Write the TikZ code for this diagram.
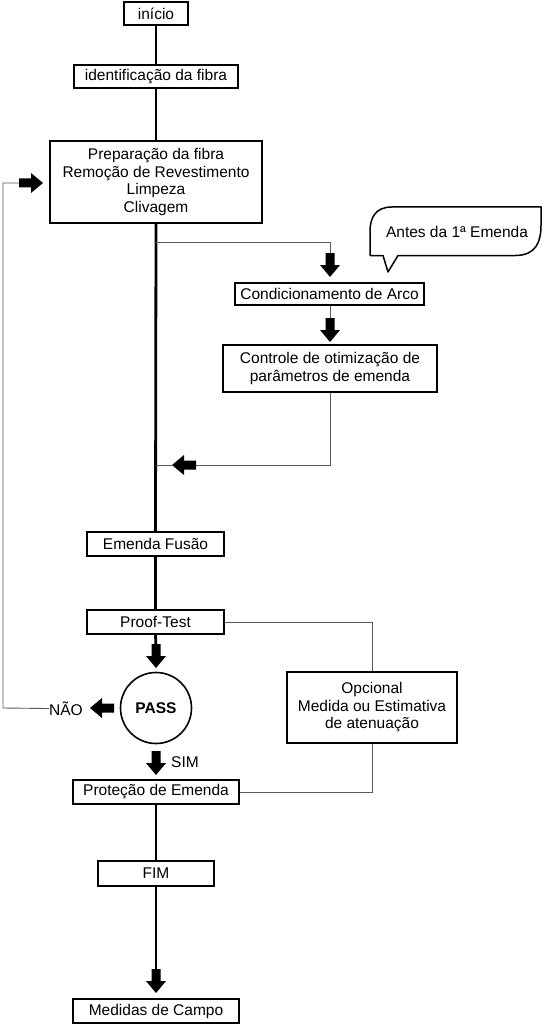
\documentclass[tikz,border=0pt]{standalone}
\usepackage{fontspec}
\setmainfont{Liberation Sans}
\begin{document}
\begin{tikzpicture}[x=1pt,y=-1pt,
  txt/.style={font=\fontsize{15.5}{17.5}\selectfont},
  box/.style={txt,draw,line width=1.6pt,inner sep=0pt,align=center},
  thick line/.style={line width=2.8pt},
  thin line/.style={line width=0.9pt,draw=black!65},
  barrowdown/.pic={\fill[black] (-4.5,-24) -- (4.5,-24) -- (4.5,-12) -- (10,-12) -- (0,0) -- (-10,-12) -- (-4.5,-12) -- cycle;},
  barrowleft/.pic={\fill[black] (24,-4.5) -- (12,-4.5) -- (12,-10) -- (0,0) -- (12,10) -- (12,4.5) -- (24,4.5) -- cycle;},
  barrowright/.pic={\fill[black] (-24,-4.5) -- (-12,-4.5) -- (-12,-10) -- (0,0) -- (-12,10) -- (-12,4.5) -- (-24,4.5) -- cycle;}
]
\useasboundingbox (0,0) rectangle (544,1024);

% nodes
\node[box,minimum width=64pt,minimum height=23pt] (inicio) at (156,13.5) {início};
\node[box,minimum width=164pt,minimum height=23pt] (ident) at (156,76.5) {identificação da fibra};
\node[box,minimum width=212pt,minimum height=82pt] (prep) at (156,182) {Preparação da fibra\\Remoção de Revestimento\\Limpeza\\Clivagem};
\node[box,minimum width=189pt,minimum height=22pt] (cond) at (329.5,294) {Condicionamento de Arco};
\node[box,minimum width=214pt,minimum height=47pt] (ctrl) at (330,368.5) {Controle de otimização de\\parâmetros de emenda};
\node[box,minimum width=137pt,minimum height=24pt] (fusao) at (155.5,544) {Emenda Fusão};
\node[box,minimum width=137pt,minimum height=24pt] (proof) at (155.5,622) {Proof-Test};
\node[box,circle,minimum size=71pt,font=\fontsize{15.5}{17.5}\selectfont\bfseries] (pass) at (156,708) {PASS};
\node[box,minimum width=166pt,minimum height=24pt] (prot) at (156,792) {Proteção de Emenda};
\node[box,minimum width=116pt,minimum height=25pt] (fim) at (156,873.5) {FIM};
\node[box,minimum width=166pt,minimum height=24pt] (medidas) at (156,1011) {Medidas de Campo};
\node[box,minimum width=170pt,minimum height=71pt] (opc) at (372,707.5) {Opcional\\Medida ou Estimativa\\de atenuação};
\node[txt,inner sep=0pt] (nao) at (66,708.5) {NÃO};
\node[txt,inner sep=0pt] (sim) at (185,762.5) {SIM};
\node[txt,inner sep=0pt] (antes) at (457,232) {Antes da 1ª Emenda};

% callout
\draw[line width=1.5pt,line join=round] (383,255.5) -- (388,272) -- (398,255.5) -- (515,255.5)
  .. controls (536,255.5) and (541,242) .. (541,225) -- (541,207) -- (392,207)
  .. controls (375,207) and (370,218) .. (370,232) -- (370,255.5) -- cycle;

% coordinates
\coordinate (j1) at (156,242);
\coordinate (j1r) at (330,242);
\coordinate (a1) at (330,277);
\coordinate (a2) at (330,342);
\coordinate (c1) at (330,465);
\coordinate (a3) at (172,465);
\coordinate (j2) at (156,465);
\coordinate (a4) at (156,668);
\coordinate (a5) at (90,708);
\coordinate (l1) at (3,708);
\coordinate (l2) at (3,183);
\coordinate (a6) at (43,183);
\coordinate (a7) at (156,775);
\coordinate (a8) at (156,993);
\coordinate (o1) at (372,622);
\coordinate (o2) at (372,792);

% thick main line
\draw[thick line] (inicio.south) -- (ident.north);
\draw[thick line] (ident.south) -- (prep.north);
\draw[thick line] (prep.south) -- (fusao.north);
\draw[thick line] (fusao.south) -- (proof.north);
\draw[thick line] (proof.south) -- ([yshift=20pt]a4);
\draw[thick line] (prot.south) -- (fim.north);
\draw[thick line] (fim.south) -- ([yshift=20pt]a8);

% thin lines
\draw[thin line] (j1) -- (j1r) -- ([yshift=20pt]a1);
\draw[thin line] (cond.south -| a2) -- ([yshift=20pt]a2);
\draw[thin line] (ctrl.south -| c1) -- (c1) -- ([xshift=20pt]a3);
\draw[thin line] (a3) -- (j2);
\draw[thin line] (proof.east) -- (o1) -- (opc.north);
\draw[thin line] (opc.south) -- (o2) -- (prot.east);
\draw[thin line] (nao.west) -- (l1) -- (l2) -- ([xshift=-20pt]a6);

% block arrows
\pic at (a1) {barrowdown};
\pic at (a2) {barrowdown};
\pic at (a3) {barrowleft};
\pic at (a4) {barrowdown};
\pic at (a5) {barrowleft};
\pic at (a6) {barrowright};
\pic at (a7) {barrowdown};
\pic at (a8) {barrowdown};
\end{tikzpicture}
\end{document}
